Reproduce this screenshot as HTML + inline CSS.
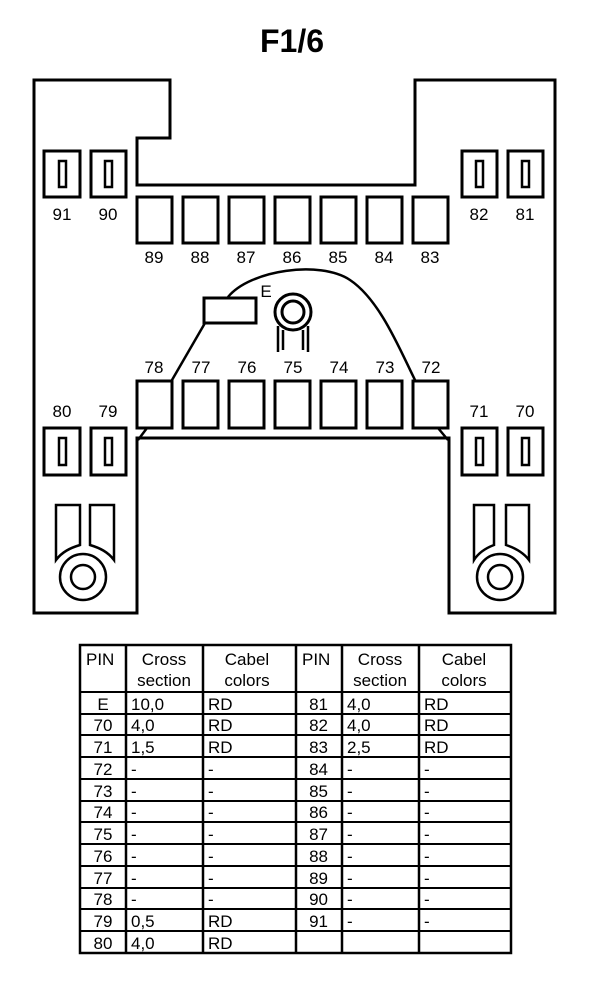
<!DOCTYPE html>
<html><head><meta charset="utf-8"><style>
html,body{margin:0;padding:0;background:#fff;}
svg{display:block;}
text{font-family:"Liberation Sans",Arial,sans-serif;fill:#000;}
</style></head><body>
<svg width="608" height="1006" viewBox="0 0 608 1006" xmlns="http://www.w3.org/2000/svg">
<text x="292" y="52" font-size="32" font-weight="bold" text-anchor="middle">F1/6</text>
<g fill="none" stroke="#000" stroke-width="3">
<path d="M34,80 H170 V138 H137 V185 H415 V138 H415 V80 H555 V613 H449 V438 H137 V613 H34 Z"/>
<rect x="44" y="151" width="36" height="46"/><rect x="59" y="161" width="7" height="26" stroke-width="2.5"/>
<rect x="91" y="151" width="35" height="46"/><rect x="105" y="161" width="7" height="26" stroke-width="2.5"/>
<rect x="462" y="151" width="35" height="46"/><rect x="476" y="161" width="7" height="26" stroke-width="2.5"/>
<rect x="508" y="151" width="35" height="46"/><rect x="522" y="161" width="7" height="26" stroke-width="2.5"/>
<rect x="44" y="428" width="36" height="47"/><rect x="59" y="438" width="7" height="27" stroke-width="2.5"/>
<rect x="91" y="428" width="35" height="47"/><rect x="105" y="438" width="7" height="27" stroke-width="2.5"/>
<rect x="462" y="428" width="35" height="47"/><rect x="476" y="438" width="7" height="27" stroke-width="2.5"/>
<rect x="508" y="428" width="35" height="47"/><rect x="522" y="438" width="7" height="27" stroke-width="2.5"/>
<rect x="137" y="197" width="35" height="46"/><rect x="183" y="197" width="35" height="46"/>
<rect x="229" y="197" width="35" height="46"/><rect x="275" y="197" width="35" height="46"/>
<rect x="321" y="197" width="35" height="46"/><rect x="367" y="197" width="35" height="46"/>
<rect x="413" y="197" width="35" height="46"/>
<rect x="137" y="381" width="35" height="47"/><rect x="183" y="381" width="35" height="47"/>
<rect x="229" y="381" width="35" height="47"/><rect x="275" y="381" width="35" height="47"/>
<rect x="321" y="381" width="35" height="47"/><rect x="367" y="381" width="35" height="47"/>
<rect x="413" y="381" width="35" height="47"/>
<path d="M147,428 L138,440 M438,428 L448,440" stroke-width="2.5"/>
<path d="M172,380 L205,323" stroke-width="2.5"/>
<path d="M228,297 C250,270 320,260 350,280 C380,300 400,350 415,380" stroke-width="2.5"/>
<rect x="204" y="298" width="52" height="25"/>
<circle cx="293" cy="312" r="18"/><circle cx="293" cy="312" r="11"/>
<path d="M278,326 V352 M283,330 V350 M308,326 V352 M303,330 V350" stroke-width="2.5"/>
<path d="M56,560 V505 H80 V545 C70,548 62,552 56,560 Z" stroke-width="2.5"/>
<path d="M114,560 V505 H90 V545 C100,548 108,552 114,560 Z" stroke-width="2.5"/>
<circle cx="83" cy="577" r="23" stroke-width="2.5"/><circle cx="83" cy="577" r="12" stroke-width="2.5"/>
<path d="M474,560 V505 H494 V545 C486,548 479,552 474,560 Z" stroke-width="2.5"/>
<path d="M529,560 V505 H506 V545 C515,548 523,552 529,560 Z" stroke-width="2.5"/>
<circle cx="500" cy="577" r="23" stroke-width="2.5"/><circle cx="500" cy="577" r="12" stroke-width="2.5"/>
</g>
<g font-size="17" text-anchor="middle">
<text x="62" y="220">91</text><text x="108" y="220">90</text>
<text x="479" y="220">82</text><text x="525" y="220">81</text>
<text x="154" y="263">89</text><text x="200" y="263">88</text><text x="246" y="263">87</text>
<text x="292" y="263">86</text><text x="338" y="263">85</text><text x="384" y="263">84</text><text x="430" y="263">83</text>
<text x="154" y="373">78</text><text x="201" y="373">77</text><text x="247" y="373">76</text>
<text x="293" y="373">75</text><text x="339" y="373">74</text><text x="385" y="373">73</text><text x="431" y="373">72</text>
<text x="62" y="417">80</text><text x="108" y="417">79</text>
<text x="479" y="417">71</text><text x="525" y="417">70</text>
<text x="266" y="297">E</text>
</g>
<g fill="none" stroke="#000">
<rect x="80" y="645" width="431" height="308" stroke-width="2.5"/>
<path d="M126,645 V953 M203,645 V953 M296,645 V953 M342,645 V953 M419,645 V953" stroke-width="2.5"/>
<path d="M80,692 H511 M80,714 H511 M80,735 H511 M80,757 H511 M80,779 H511 M80,801 H511 M80,822 H511 M80,844 H511 M80,866 H511 M80,888 H511 M80,909 H511 M80,931 H511" stroke-width="2"/>
</g>
<g font-size="17">
<text x="86" y="665">PIN</text><text x="164" y="665" text-anchor="middle">Cross</text><text x="164" y="686" text-anchor="middle">section</text>
<text x="247" y="665" text-anchor="middle">Cabel</text><text x="247" y="686" text-anchor="middle">colors</text>
<text x="302" y="665">PIN</text><text x="380" y="665" text-anchor="middle">Cross</text><text x="380" y="686" text-anchor="middle">section</text>
<text x="464" y="665" text-anchor="middle">Cabel</text><text x="464" y="686" text-anchor="middle">colors</text>
</g>
<g font-size="17">
<text x="103" y="710" text-anchor="middle">E</text><text x="131" y="710">10,0</text><text x="208" y="710">RD</text><text x="328" y="710" text-anchor="end">81</text><text x="347" y="710">4,0</text><text x="424" y="710">RD</text>
<text x="103" y="731" text-anchor="middle">70</text><text x="131" y="731">4,0</text><text x="208" y="731">RD</text><text x="328" y="731" text-anchor="end">82</text><text x="347" y="731">4,0</text><text x="424" y="731">RD</text>
<text x="103" y="753" text-anchor="middle">71</text><text x="131" y="753">1,5</text><text x="208" y="753">RD</text><text x="328" y="753" text-anchor="end">83</text><text x="347" y="753">2,5</text><text x="424" y="753">RD</text>
<text x="103" y="775" text-anchor="middle">72</text><text x="131" y="775">-</text><text x="208" y="775">-</text><text x="328" y="775" text-anchor="end">84</text><text x="347" y="775">-</text><text x="424" y="775">-</text>
<text x="103" y="797" text-anchor="middle">73</text><text x="131" y="797">-</text><text x="208" y="797">-</text><text x="328" y="797" text-anchor="end">85</text><text x="347" y="797">-</text><text x="424" y="797">-</text>
<text x="103" y="818" text-anchor="middle">74</text><text x="131" y="818">-</text><text x="208" y="818">-</text><text x="328" y="818" text-anchor="end">86</text><text x="347" y="818">-</text><text x="424" y="818">-</text>
<text x="103" y="840" text-anchor="middle">75</text><text x="131" y="840">-</text><text x="208" y="840">-</text><text x="328" y="840" text-anchor="end">87</text><text x="347" y="840">-</text><text x="424" y="840">-</text>
<text x="103" y="862" text-anchor="middle">76</text><text x="131" y="862">-</text><text x="208" y="862">-</text><text x="328" y="862" text-anchor="end">88</text><text x="347" y="862">-</text><text x="424" y="862">-</text>
<text x="103" y="884" text-anchor="middle">77</text><text x="131" y="884">-</text><text x="208" y="884">-</text><text x="328" y="884" text-anchor="end">89</text><text x="347" y="884">-</text><text x="424" y="884">-</text>
<text x="103" y="905" text-anchor="middle">78</text><text x="131" y="905">-</text><text x="208" y="905">-</text><text x="328" y="905" text-anchor="end">90</text><text x="347" y="905">-</text><text x="424" y="905">-</text>
<text x="103" y="927" text-anchor="middle">79</text><text x="131" y="927">0,5</text><text x="208" y="927">RD</text><text x="328" y="927" text-anchor="end">91</text><text x="347" y="927">-</text><text x="424" y="927">-</text>
<text x="103" y="949" text-anchor="middle">80</text><text x="131" y="949">4,0</text><text x="208" y="949">RD</text>
</g>
</svg>
</body></html>
